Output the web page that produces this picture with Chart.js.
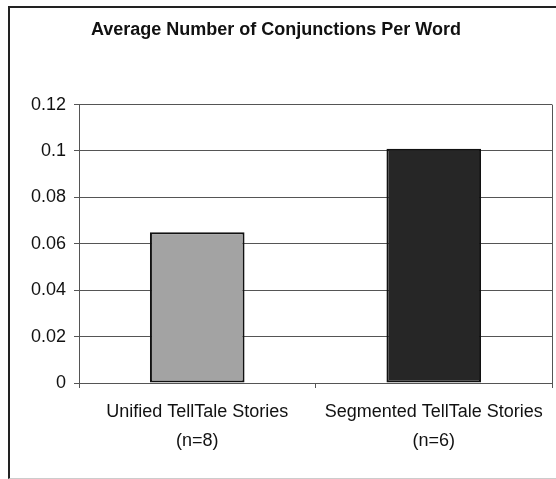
<!DOCTYPE html>
<html lang="en">
<head>
  <meta charset="UTF-8">
  <title>Conjunctions Per Word</title>
  <script src="https://cdn.jsdelivr.net/npm/chart.js"></script>
  <style>
    body { margin: 0; background: #fff; }
    #frame {
      position: absolute;
      left: 8px;
      top: 6px;
      width: 600px;
      height: 470px;
      border-left: 2px solid #222;
      border-top: 2px solid #222;
      border-bottom: 1px solid #ccc;
    }
    #wrap { position: absolute; left: 0; top: 0; width: 556px; height: 479px; }
  </style>
</head>
<body>
  <div id="frame"></div>
  <div id="wrap"><canvas id="chart" width="556" height="479"></canvas></div>

<script>
// data
const categories = [["Unified TellTale Stories", "(n=8)"], ["Segmented TellTale Stories", "(n=6)"]];
const values = [0.065, 0.101];
const barColors = ["#a3a3a3", "#262626"];

const fontFam = "'Liberation Sans', Arial, Helvetica, sans-serif";

// right border of the plot box
const plotBox = {
  id: "plotBox",
  afterDraw(chart) {
    const a = chart.chartArea;
    const ctx = chart.ctx;
    ctx.save();
    ctx.strokeStyle = "#555";
    ctx.lineWidth = 1;
    ctx.beginPath();
    ctx.moveTo(Math.round(a.right) + 0.5, a.top);
    ctx.lineTo(Math.round(a.right) + 0.5, a.bottom + 5);
    ctx.stroke();
    ctx.restore();
  }
};

new Chart(document.getElementById("chart"), {
  type: "bar",
  data: {
    labels: categories,
    datasets: [{
      data: values,
      backgroundColor: barColors,
      borderColor: "#111",
      borderWidth: 2,
      borderSkipped: false,
      barPercentage: 1,
      categoryPercentage: 0.4
    }]
  },
  options: {
    responsive: false,
    animation: false,
    layout: { padding: { left: 0, right: 4, top: 0, bottom: 0 } },
    plugins: {
      legend: { display: false },
      tooltip: { enabled: false },
      title: {
        display: true,
        text: "Average Number of Conjunctions Per Word",
        color: "#111",
        font: { family: fontFam, size: 18, weight: "bold" },
        padding: { top: 19, bottom: 64 }
      }
    },
    scales: {
      x: {
        afterFit(scale) { scale.height = 96; },
        grid: { drawOnChartArea: false, drawTicks: true, tickLength: 5, color: "#555", offset: true },
        border: { color: "#555" },
        ticks: {
          color: "#111",
          padding: 10,
          font: { family: fontFam, size: 18, lineHeight: 1.6 }
        }
      },
      y: {
        min: 0,
        max: 0.12,
        afterFit(scale) { scale.width = 79; },
        grid: { color: "#555", tickLength: 5 },
        border: { color: "#555" },
        ticks: {
          stepSize: 0.02,
          color: "#111",
          padding: 8,
          font: { family: fontFam, size: 18 },
          callback: v => String(+v.toFixed(2))
        }
      }
    }
  },
  plugins: [plotBox]
});
</script>
</body>
</html>
